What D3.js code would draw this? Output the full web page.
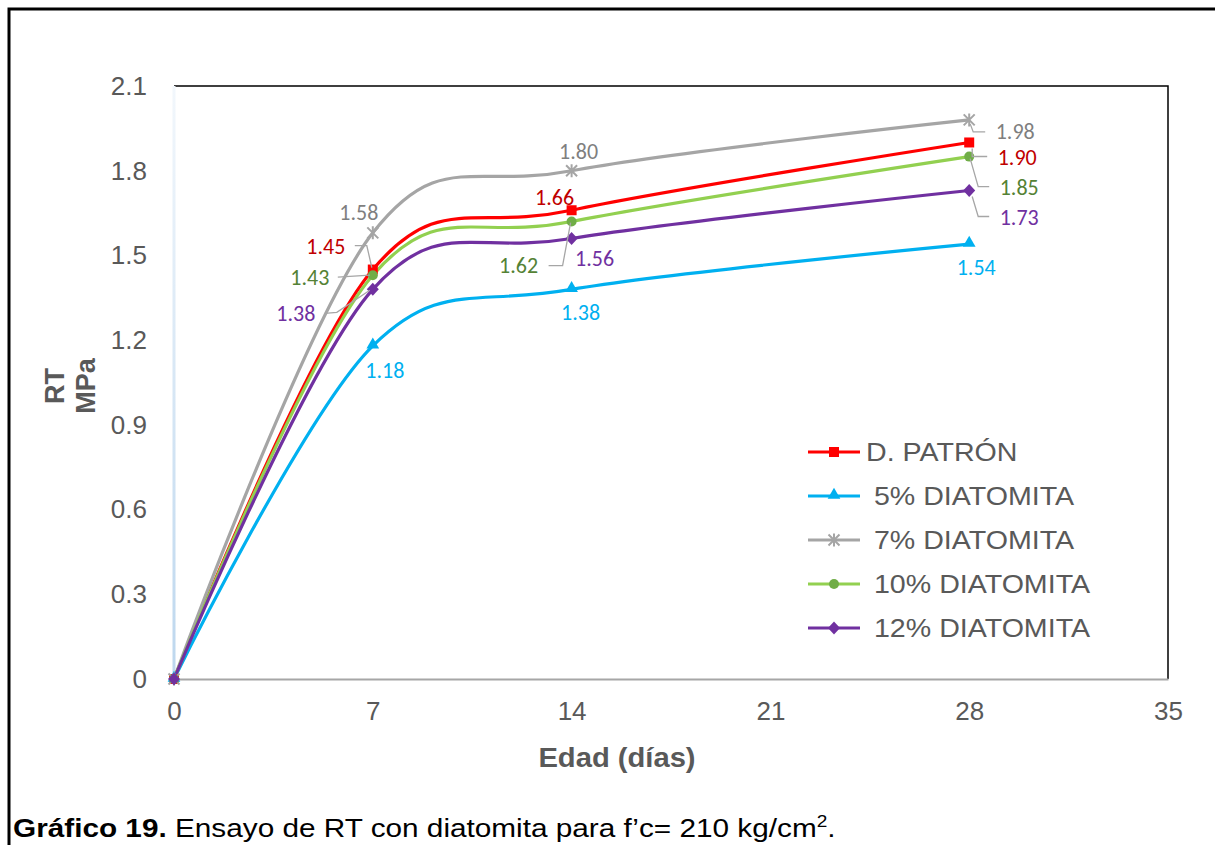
<!DOCTYPE html>
<html>
<head>
<meta charset="UTF-8">
<script src="https://d3js.org/d3.v7.min.js"></script>
<style>
  body { margin: 0; background: #fff; }
  svg { display: block; }
</style>
</head>
<body>
<div id="chart"></div>
<script>
// data
var days = [0, 7, 14, 28];
var patron = [0, 1.45, 1.66, 1.90];
var dia5 = [0, 1.18, 1.38, 1.54];
var dia7 = [0, 1.58, 1.80, 1.98];
var dia10 = [0, 1.43, 1.62, 1.85];
var dia12 = [0, 1.38, 1.56, 1.73];
var seriesNames = ["D. PATRÓN", " 5% DIATOMITA", " 7% DIATOMITA", " 10% DIATOMITA", " 12% DIATOMITA"];
var xTicks = [0, 7, 14, 21, 28, 35];
var yTicks = [0, 0.3, 0.6, 0.9, 1.2, 1.5, 1.8, 2.1];

// series styling
var series = [
  {name: seriesNames[0], values: patron, line: "#FF0000", mark: "#FF0000", label: "#C00000", shape: "square"},
  {name: seriesNames[1], values: dia5, line: "#00B0F0", mark: "#00B0F0", label: "#00B0F0", shape: "triangle"},
  {name: seriesNames[2], values: dia7, line: "#A5A5A5", mark: "#A5A5A5", label: "#7F7F7F", shape: "star"},
  {name: seriesNames[3], values: dia10, line: "#92D050", mark: "#70AD47", label: "#548235", shape: "circle"},
  {name: seriesNames[4], values: dia12, line: "#7030A0", mark: "#7030A0", label: "#7030A0", shape: "diamond"}
];

// label placement (offsets from the point, index 1..3) and leader lines
var labelPos = [
  [null, [-47, -23], [-17, -13], [48, 15]],
  [null, [12, 25], [9, 23], [7, 23]],
  [null, [-14, -20], [7, -19], [46, 12]],
  [null, [-63, 2], [-53, 44], [50, 31]],
  [null, [-77, 24], [23, 20], [50, 27]]
];
var leaders = [
  [null, [[-18, -24], [-6, -24], [-1, -2]], null, [[3, 6], [3, 14], [18, 14]]],
  [null, null, null, null],
  [null, null, null, [[1, 4], [4, 12], [16, 12]]],
  [null, [[-35, 2], [-3, 0]], [[-23, 44], [-9, 44], [-1, 1]], [[1, 2], [9, 30], [20, 30]]],
  [null, [[-48, 24], [-36, 23], [-3, 1]], null, [[3, 6], [9, 26], [20, 26]]]
];

var W = 1215, H = 845;
var plotL = 174, plotR = 1168, plotT = 86, plotB = 679;
var FONT = "'Liberation Sans', Arial, sans-serif";

var svg = d3.select("#chart").append("svg")
  .attr("width", W).attr("height", H)
  .style("font-family", FONT);

// stretch a text horizontally around its anchor point
function stretch(sel, ax, ay, sx) {
  sel.attr("transform", "translate(" + ax + "," + ay + ") scale(" + sx + ",1) translate(" + (-ax) + "," + (-ay) + ")");
}

// outer frame
svg.append("rect")
  .attr("x", 9).attr("y", 9).attr("width", W + 20).attr("height", H + 20)
  .attr("fill", "none").attr("stroke", "#000").attr("stroke-width", 3);

var x = d3.scaleLinear().domain([0, 35]).range([plotL, plotR]);
var y = d3.scaleLinear().domain([0, 2.1]).range([plotB, plotT]);

// plot area border (top + right black)
svg.append("path")
  .attr("d", "M" + plotL + "," + plotT + "H" + plotR + "V" + plotB)
  .attr("fill", "none").attr("stroke", "#000").attr("stroke-width", 1.5);

// left axis line: light blue fading up
var grad = svg.append("defs").append("linearGradient")
  .attr("id", "yfade").attr("x1", 0).attr("y1", 1).attr("x2", 0).attr("y2", 0);
grad.append("stop").attr("offset", "0%").attr("stop-color", "#BDD7EE");
grad.append("stop").attr("offset", "100%").attr("stop-color", "#F2F7FC");
svg.append("rect")
  .attr("x", plotL - 1.5).attr("y", plotT).attr("width", 3).attr("height", plotB - plotT)
  .attr("fill", "url(#yfade)");

// x axis
var xAxis = svg.append("g")
  .attr("transform", "translate(0," + plotB + ")")
  .call(d3.axisBottom(x).tickValues(xTicks).tickSize(0).tickPadding(23));
xAxis.select(".domain").attr("stroke", "#A6A6A6").attr("stroke-width", 2);
xAxis.selectAll("text").attr("fill", "#595959").style("font-size", "26px")
  .style("font-family", FONT);

// y axis
var yAxis = svg.append("g")
  .attr("transform", "translate(" + plotL + ",0)")
  .call(d3.axisLeft(y).tickValues(yTicks).tickSize(0).tickPadding(27)
    .tickFormat(function(d) { return d === 0 ? "0" : d3.format(".1f")(d); }));
yAxis.select(".domain").remove();
yAxis.selectAll("text").attr("fill", "#595959").style("font-size", "26px")
  .style("font-family", FONT);

// axis titles
var xt = svg.append("text")
  .attr("x", 617).attr("y", 767)
  .attr("text-anchor", "middle").attr("fill", "#595959")
  .style("font-size", "27px").style("font-weight", "bold")
  .text("Edad (días)");
stretch(xt, 617, 767, 1.08);
var yt = svg.append("text")
  .attr("transform", "translate(64,386) rotate(-90)")
  .attr("text-anchor", "middle").attr("fill", "#595959")
  .style("font-size", "27px").style("font-weight", "bold");
yt.append("tspan").attr("x", 0).attr("dy", 0).text("RT");
yt.append("tspan").attr("x", 0).attr("dy", 31).text("MPa");

// lines
var line = d3.line()
  .x(function(d, i) { return x(days[i]); })
  .y(function(d) { return y(d); })
  .curve(d3.curveCardinal.tension(0));

series.forEach(function(s) {
  svg.append("path")
    .datum(s.values)
    .attr("d", line)
    .attr("fill", "none")
    .attr("stroke", s.line)
    .attr("stroke-width", 3.2)
    .attr("stroke-linejoin", "round");
});

function drawMarker(g, shape, color, cx, cy) {
  if (shape === "square") {
    g.append("rect").attr("x", cx - 5).attr("y", cy - 5).attr("width", 10).attr("height", 10).attr("fill", color);
  } else if (shape === "triangle") {
    g.append("path").attr("d", d3.symbol().type(d3.symbolTriangle).size(70)()).attr("transform", "translate(" + cx + "," + (cy - 1) + ")").attr("fill", color);
  } else if (shape === "circle") {
    g.append("circle").attr("cx", cx).attr("cy", cy).attr("r", 5).attr("fill", color);
  } else if (shape === "diamond") {
    g.append("path").attr("d", "M" + cx + "," + (cy - 6.5) + "L" + (cx + 6) + "," + cy + "L" + cx + "," + (cy + 6.5) + "L" + (cx - 6) + "," + cy + "Z").attr("fill", color);
  } else if (shape === "star") {
    var r = 5.5;
    var p = "M" + (cx - r) + "," + (cy - r) + "L" + (cx + r) + "," + (cy + r) +
            "M" + (cx + r) + "," + (cy - r) + "L" + (cx - r) + "," + (cy + r) +
            "M" + cx + "," + (cy - r - 1) + "L" + cx + "," + (cy + r + 1);
    g.append("path").attr("d", p).attr("stroke", color).attr("stroke-width", 2).attr("fill", "none");
  }
}

// markers
series.forEach(function(s) {
  var g = svg.append("g");
  s.values.forEach(function(v, i) {
    drawMarker(g, s.shape, s.mark, x(days[i]), y(v));
  });
});

// leader lines and data labels
series.forEach(function(s, si) {
  s.values.forEach(function(v, i) {
    if (i === 0) return;
    var px = x(days[i]), py = y(v);
    var ld = leaders[si][i];
    if (ld) {
      svg.append("path")
        .attr("d", d3.line()(ld.map(function(o) { return [px + o[0], py + o[1]]; })))
        .attr("fill", "none").attr("stroke", "#A6A6A6").attr("stroke-width", 1.3);
    }
    var o = labelPos[si][i];
    svg.append("text")
      .attr("x", px + o[0]).attr("y", py + o[1])
      .attr("text-anchor", "middle").attr("dominant-baseline", "central")
      .attr("fill", s.label)
      .style("font-family", "Carlito, Lato, 'Open Sans', sans-serif")
      .style("font-size", "22px")
      .text(d3.format(".2f")(v));
  });
});

// legend
var legend = svg.append("g").attr("transform", "translate(808,452)");
series.forEach(function(s, i) {
  var row = legend.append("g").attr("transform", "translate(0," + (i * 44) + ")");
  row.append("line").attr("x1", 0).attr("x2", 52).attr("y1", 0).attr("y2", 0)
    .attr("stroke", s.line).attr("stroke-width", 3.2);
  drawMarker(row, s.shape, s.mark, 26, 0);
  var t = row.append("text")
    .attr("x", 58).attr("y", 0).attr("dominant-baseline", "central")
    .attr("fill", "#595959").style("font-size", "26px")
    .style("white-space", "pre").attr("xml:space", "preserve")
    .text(s.name);
  stretch(t, 58, 0, 1.1);
});

// caption
var cap = svg.append("text").attr("x", 13).attr("y", 837)
  .attr("fill", "#000").style("font-size", "25px");
cap.append("tspan").style("font-weight", "bold").text("Gráfico 19.");
cap.append("tspan").text(" Ensayo de RT con diatomita para f’c= 210 kg/cm");
cap.append("tspan").style("font-size", "16px").attr("dy", -10).text("2");
cap.append("tspan").attr("dy", 10).text(".");
stretch(cap, 13, 837, 1.19);
</script>
</body>
</html>
